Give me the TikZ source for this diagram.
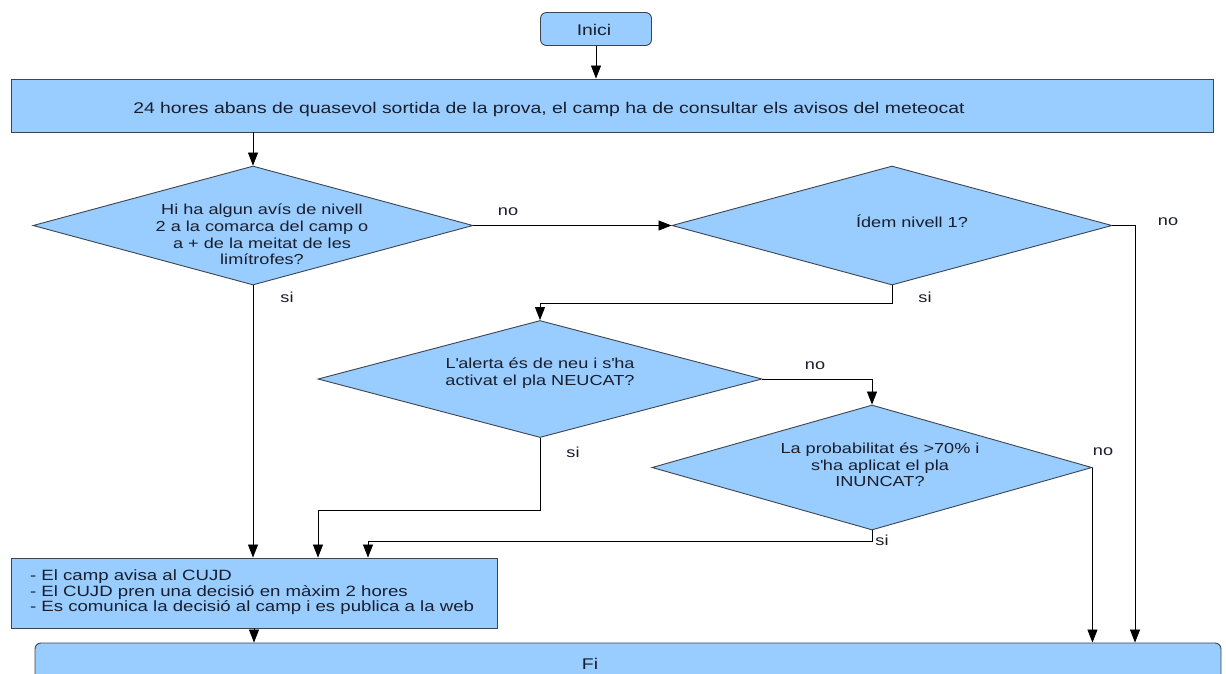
\documentclass[tikz,border=0pt]{standalone}
\usepackage{fontspec}
\setmainfont{Liberation Sans}[FakeStretch=1.25]
\usetikzlibrary{shapes.geometric,arrows.meta}
\definecolor{boxfill}{HTML}{99CCFF}
\definecolor{bordercol}{HTML}{3C4450}
\definecolor{txt}{HTML}{1A1E2C}
\newcommand\zbox[3]{\makebox[0pt]{\hspace*{#1}\hspace*{#1}\raisebox{#2}[0pt][0pt]{\begin{tabular}{@{}c@{}}#3\end{tabular}}}}
\newcommand\zboxl[3]{\makebox[0pt][l]{\hspace*{#1}\raisebox{#2}[0pt][0pt]{\begin{tabular}{@{}l@{}}#3\end{tabular}}}}
\newcommand\apos{\textquotesingle}
\tikzset{
  box/.style={draw=bordercol, fill=boxfill, line width=0.9pt, inner sep=0pt},
  decision/.style={box, diamond},
  lbl/.style={inner sep=0pt},
  arr/.style={-{Triangle[width=10pt,length=13pt]}, line width=0.8pt, draw=black},
}
\begin{document}
\begin{tikzpicture}[x=1pt,y=-1pt, font=\fontsize{14.5}{16.7}\selectfont, text=txt]
\useasboundingbox (0,0) rectangle (1226,673);
\fill[white] (0,0) rectangle (1226,673);

% nodes
\node[box, rounded corners=6pt, minimum width=111pt, minimum height=33pt] (inici) at (596,29)
  {\fontsize{15.5}{17}\selectfont\zbox{-2pt}{-6.5pt}{Inici}};
\node[box, minimum width=1202pt, minimum height=53pt] (top) at (612,105.5)
  {\fontsize{15.5}{17}\selectfont\zbox{-63pt}{-8pt}{24 hores abans de quasevol sortida de la prova, el camp ha de consultar els avisos del meteocat}};
\node[decision, minimum width=440pt, minimum height=119pt] (d1) at (253,225.5)
  {\zbox{9pt}{-14.6pt}{Hi ha algun avís de nivell\\2 a la comarca del camp o\\a + de la meitat de les\\limítrofes?}};
\node[decision, minimum width=440pt, minimum height=119pt] (d2) at (892,225.5)
  {\zbox{20pt}{-1.5pt}{Ídem nivell 1?}};
\node[decision, minimum width=444pt, minimum height=117pt] (d3) at (540,379)
  {\zbox{0pt}{1.4pt}{L\apos alerta és de neu i s\apos ha\\activat el pla NEUCAT?}};
\node[decision, minimum width=440pt, minimum height=125pt] (d4) at (872,467.5)
  {\zbox{8pt}{-3pt}{La probabilitat és >70\% i\\s\apos ha aplicat el pla\\INUNCAT?}};
\node[box, minimum width=486pt, minimum height=70pt] (cujd) at (254,593)
  {\fontsize{14.9}{14.8}\selectfont\zboxl{-224pt}{-3.5pt}{- El camp avisa al CUJD\\- El CUJD pren una decisió en màxim 2 hores\\- Es comunica la decisió al camp i es publica a la web}};
\node[box, rounded corners=6pt, minimum width=1186pt, minimum height=40pt] (fi) at (628,663)
  {\fontsize{15.5}{17}\selectfont\zbox{-38pt}{-7pt}{Fi}};

% labels
\node[lbl] (no1) at (508,212) {no};
\node[lbl] (no2) at (1168,222) {no};
\node[lbl] (si1) at (287,297) {si};
\node[lbl] (si2) at (925,297) {si};
\node[lbl] (no3) at (815,366) {no};
\node[lbl] (si3) at (573,452) {si};
\node[lbl] (no4) at (1103,452) {no};
\node[lbl] (si4) at (882,540) {si};

% helper coordinates
\coordinate (r2) at (1135,0);
\coordinate (j3) at (318,510);
\coordinate (j4) at (368,541);

% connectors
\draw[arr] (inici.south) -- (inici.south |- top.north);
\draw[arr] (d1.north |- top.south) -- (d1.north);
\draw[arr] (d1.east) -- (d2.west);
\draw[arr] (d2.east) -| (r2 |- fi.north);
\draw[arr] (d2.south) -- ++(0,17.5) -| (d3.north);
\draw[arr] (d3.east) -| (d4.north);
\draw[arr] (d3.south) |- (j3) -- (j3 |- cujd.north);
\draw[arr] (d4.east) -- (d4.east |- fi.north);
\draw[arr] (d4.south) |- (j4) -- (j4 |- cujd.north);
\draw[arr] (d1.south) -- (d1.south |- cujd.north);
\draw[arr] (cujd.south) -- (cujd.south |- fi.north);
\end{tikzpicture}
\end{document}
